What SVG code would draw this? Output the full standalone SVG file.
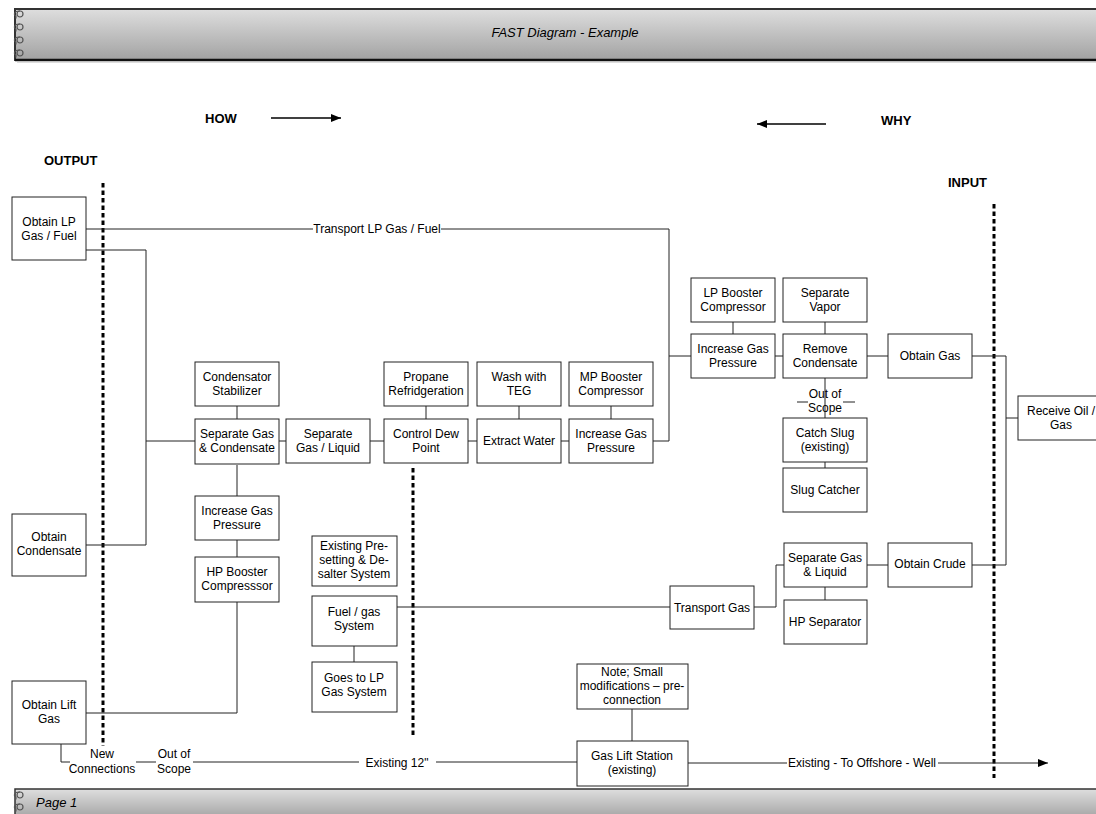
<svg xmlns="http://www.w3.org/2000/svg" width="1096" height="814" viewBox="0 0 1096 814">
<defs>
<linearGradient id="bar" x1="0" y1="0" x2="0" y2="1">
<stop offset="0" stop-color="#dedede"/>
<stop offset="1" stop-color="#a2a2a2"/>
</linearGradient>
<marker id="arr" viewBox="0 0 10 8" refX="10" refY="4" markerWidth="10" markerHeight="8" markerUnits="userSpaceOnUse" orient="auto">
<path d="M0,0 L10,4 L0,8 z" fill="#000"/>
</marker>
<g id="ring">
<circle cx="8" cy="0" r="3" fill="none" stroke="#555" stroke-width="1.2"/>
<path d="M8,-3 C2,-3.5 1,1 4,2 L4,4.5" fill="none" stroke="#555" stroke-width="1.1"/>
</g>
</defs>
<style>
.box{fill:#fff;stroke:#222;stroke-width:1}
.t{font-family:"Liberation Sans",Arial,sans-serif;font-size:12px;fill:#000;text-anchor:middle}
.c{fill:none;stroke:#222;stroke-width:1}
.dot{fill:none;stroke:#000;stroke-width:3;stroke-dasharray:4.5 3}
.h{font-family:"Liberation Sans",Arial,sans-serif;font-size:13px;font-weight:bold;fill:#000}
.it{font-family:"Liberation Sans",Arial,sans-serif;font-size:13px;font-style:italic;fill:#000}
</style>
<rect width="1096" height="814" fill="#fff"/>
<g id="header">
<rect x="15" y="9" width="1090" height="51" fill="url(#bar)" stroke="#333" stroke-width="2"/>
<line x1="15" y1="60" x2="1096" y2="60" stroke="#111" stroke-width="2.5"/>
<line x1="17" y1="62" x2="1096" y2="62" stroke="#bbb" stroke-width="1"/>
<use href="#ring" x="12" y="14"/>
<use href="#ring" x="12" y="27"/>
<use href="#ring" x="12" y="40"/>
<use href="#ring" x="12" y="53"/>
<text class="it" x="565" y="37" text-anchor="middle">FAST Diagram - Example</text>
</g>
<g id="footer">
<rect x="15" y="789" width="1090" height="30" fill="url(#bar)" stroke="#333" stroke-width="1.5"/>
<use href="#ring" x="12" y="795"/>
<use href="#ring" x="12" y="807"/>
<text class="it" x="36" y="807">Page 1</text>
</g>
<g id="labels">
<text class="h" x="205" y="123">HOW</text>
<line x1="271" y1="118" x2="341" y2="118" stroke="#000" stroke-width="1.5" marker-end="url(#arr)"/>
<text class="h" x="881" y="125">WHY</text>
<line x1="826" y1="124" x2="757" y2="124" stroke="#000" stroke-width="1.5" marker-end="url(#arr)"/>
<text class="h" x="44" y="165">OUTPUT</text>
<text class="h" x="948" y="187">INPUT</text>
</g>
<g id="scope">
<line class="dot" x1="103" y1="183" x2="103" y2="746"/>
<line class="dot" x1="413" y1="468" x2="413" y2="736"/>
<line class="dot" x1="994" y1="204" x2="994" y2="778"/>
</g>
<g id="connectors">
<path class="c" d="M86,229 H313 M441,229 H669 V441 H653"/>
<text class="t" x="377" y="233">Transport LP Gas / Fuel</text>
<path class="c" d="M669,356 H691"/>
<path class="c" d="M86,250 H146 V545 H86 M146,441 H195"/>
<path class="c" d="M279,441 H286 M370,441 H384 M468,441 H477 M561,441 H569"/>
<path class="c" d="M237,406 V419 M426,406 V419 M519,406 V419 M611,406 V419"/>
<path class="c" d="M733,322 V334 M825,322 V334 M775,356 H783 M867,356 H888 M972,356 H1006 V565 H972 M1006,418 H1018"/>
<path class="c" d="M825,378 V418 M797,402 H808 M843,402 H855"/>
<text class="t" x="825" y="398">Out of</text>
<text class="t" x="825" y="412">Scope</text>
<path class="c" d="M825,462 V468"/>
<path class="c" d="M237,465 V496 M237,540 V557 M237,602 V713 H86"/>
<path class="c" d="M397,607 H670 M354,646 V662"/>
<path class="c" d="M754,607 H776 V565 H784 M825,587 V600 M867,565 H888"/>
<path class="c" d="M632,709 V741"/>
<path class="c" d="M61,744 V762 H70 M136,762 H156 M193,762 H359 M436,762 H577"/>
<text class="t" x="102" y="758">New</text>
<text class="t" x="102" y="773">Connections</text>
<text class="t" x="174" y="758">Out of</text>
<text class="t" x="174" y="773">Scope</text>
<text class="t" x="397" y="767">Existing 12"</text>
<path class="c" d="M688,763 H787"/>
<line x1="938" y1="763" x2="1048" y2="763" stroke="#222" stroke-width="1" marker-end="url(#arr)"/>
<text class="t" x="862" y="767">Existing  - To Offshore - Well</text>
</g>
<g id="n-obtain-lp"><rect class="box" x="12" y="197" width="74" height="63"/><text class="t" x="49" y="226">Obtain LP</text><text class="t" x="49" y="240">Gas / Fuel</text></g>
<g id="n-obtain-cond"><rect class="box" x="12" y="514" width="74" height="62"/><text class="t" x="49" y="541">Obtain</text><text class="t" x="49" y="555">Condensate</text></g>
<g id="n-obtain-lift"><rect class="box" x="12" y="681" width="74" height="63"/><text class="t" x="49" y="709">Obtain Lift</text><text class="t" x="49" y="723">Gas</text></g>
<g id="n-cond-stab"><rect class="box" x="195" y="362" width="84" height="44"/><text class="t" x="237" y="381">Condensator</text><text class="t" x="237" y="395">Stabilizer</text></g>
<g id="n-sep-gas-cond"><rect class="box" x="195" y="419" width="84" height="45"/><text class="t" x="237" y="438">Separate Gas</text><text class="t" x="237" y="452">&amp; Condensate</text></g>
<g id="n-sep-gas-liq"><rect class="box" x="286" y="419" width="84" height="44"/><text class="t" x="328" y="438">Separate</text><text class="t" x="328" y="452">Gas / Liquid</text></g>
<g id="n-propane"><rect class="box" x="384" y="362" width="84" height="44"/><text class="t" x="426" y="381">Propane</text><text class="t" x="426" y="395">Refridgeration</text></g>
<g id="n-dew"><rect class="box" x="384" y="419" width="84" height="44"/><text class="t" x="426" y="438">Control Dew</text><text class="t" x="426" y="452">Point</text></g>
<g id="n-teg"><rect class="box" x="477" y="362" width="84" height="44"/><text class="t" x="519" y="381">Wash with</text><text class="t" x="519" y="395">TEG</text></g>
<g id="n-extract"><rect class="box" x="477" y="419" width="84" height="44"/><text class="t" x="519" y="445">Extract Water</text></g>
<g id="n-mp-booster"><rect class="box" x="569" y="362" width="84" height="44"/><text class="t" x="611" y="381">MP Booster</text><text class="t" x="611" y="395">Compressor</text></g>
<g id="n-inc-mp"><rect class="box" x="569" y="419" width="84" height="44"/><text class="t" x="611" y="438">Increase Gas</text><text class="t" x="611" y="452">Pressure</text></g>
<g id="n-lp-booster"><rect class="box" x="691" y="278" width="84" height="44"/><text class="t" x="733" y="297">LP Booster</text><text class="t" x="733" y="311">Compressor</text></g>
<g id="n-inc-lp"><rect class="box" x="691" y="334" width="84" height="44"/><text class="t" x="733" y="353">Increase Gas</text><text class="t" x="733" y="367">Pressure</text></g>
<g id="n-sep-vapor"><rect class="box" x="783" y="278" width="84" height="44"/><text class="t" x="825" y="297">Separate</text><text class="t" x="825" y="311">Vapor</text></g>
<g id="n-remove-cond"><rect class="box" x="783" y="334" width="84" height="44"/><text class="t" x="825" y="353">Remove</text><text class="t" x="825" y="367">Condensate</text></g>
<g id="n-obtain-gas"><rect class="box" x="888" y="334" width="84" height="44"/><text class="t" x="930" y="360">Obtain Gas</text></g>
<g id="n-receive"><rect class="box" x="1018" y="396" width="86" height="44"/><text class="t" x="1061" y="415">Receive Oil /</text><text class="t" x="1061" y="429">Gas</text></g>
<g id="n-catch-slug"><rect class="box" x="783" y="418" width="84" height="44"/><text class="t" x="825" y="437">Catch Slug</text><text class="t" x="825" y="451">(existing)</text></g>
<g id="n-slug-catcher"><rect class="box" x="783" y="468" width="84" height="44"/><text class="t" x="825" y="494">Slug Catcher</text></g>
<g id="n-inc-hp"><rect class="box" x="195" y="496" width="84" height="44"/><text class="t" x="237" y="515">Increase Gas</text><text class="t" x="237" y="529">Pressure</text></g>
<g id="n-hp-booster"><rect class="box" x="195" y="557" width="84" height="45"/><text class="t" x="237" y="576">HP Booster</text><text class="t" x="237" y="590">Compresssor</text></g>
<g id="n-presetting"><rect class="box" x="312" y="536" width="85" height="50"/><text class="t" x="354" y="550">Existing Pre-</text><text class="t" x="354" y="564">setting &amp; De-</text><text class="t" x="354" y="578">salter System</text></g>
<g id="n-fuel"><rect class="box" x="312" y="596" width="85" height="50"/><text class="t" x="354" y="616">Fuel / gas</text><text class="t" x="354" y="630">System</text></g>
<g id="n-goes-lp"><rect class="box" x="312" y="662" width="85" height="50"/><text class="t" x="354" y="682">Goes to LP</text><text class="t" x="354" y="696">Gas System</text></g>
<g id="n-transport-gas"><rect class="box" x="670" y="586" width="84" height="43"/><text class="t" x="712" y="612">Transport Gas</text></g>
<g id="n-sep-gas-liquid"><rect class="box" x="784" y="543" width="83" height="44"/><text class="t" x="825" y="562">Separate Gas</text><text class="t" x="825" y="576">&amp; Liquid</text></g>
<g id="n-hp-sep"><rect class="box" x="784" y="600" width="83" height="44"/><text class="t" x="825" y="626">HP Separator</text></g>
<g id="n-obtain-crude"><rect class="box" x="888" y="543" width="84" height="44"/><text class="t" x="930" y="568">Obtain Crude</text></g>
<g id="n-note"><rect class="box" x="577" y="664" width="111" height="45"/><text class="t" x="632" y="676">Note; Small</text><text class="t" x="632" y="690">modifications – pre-</text><text class="t" x="632" y="704">connection</text></g>
<g id="n-gas-lift"><rect class="box" x="577" y="741" width="111" height="45"/><text class="t" x="632" y="760">Gas Lift Station</text><text class="t" x="632" y="774">(existing)</text></g>
</svg>
